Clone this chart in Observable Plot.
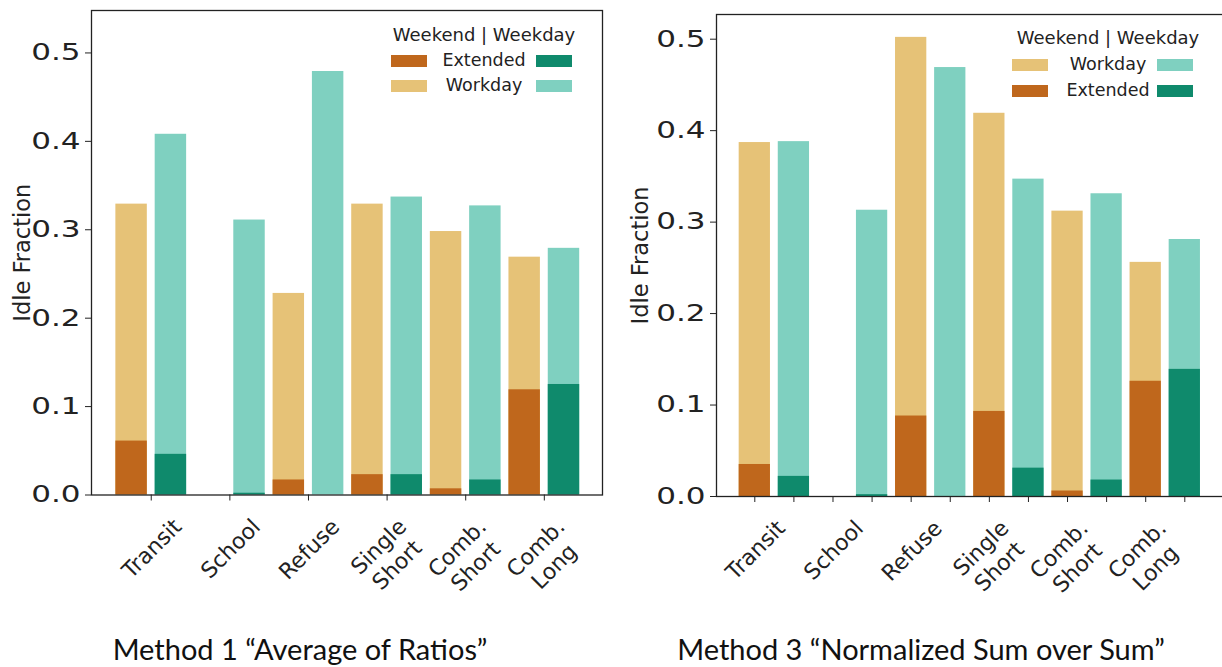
<!DOCTYPE html>
<html><head><meta charset="utf-8">
<script src="https://cdn.jsdelivr.net/npm/d3@7"></script>
<script src="https://cdn.jsdelivr.net/npm/@observablehq/plot@0.6"></script>
<style>
body{margin:0;background:#fff;}
#wrap{position:relative;width:1222px;height:667px;overflow:hidden;background:#fff;font-family:'DejaVu Sans',sans-serif;color:#222;}
svg text{font-family:'DejaVu Sans',sans-serif;}
.leg{position:absolute;font-size:17.5px;white-space:nowrap;font-family:'DejaVu Sans',sans-serif;}
.sw{position:absolute;height:12px;width:36px;}
.cap{position:absolute;font-family:Lato,'Open Sans',sans-serif;font-size:29px;color:#111;white-space:nowrap;transform:translateX(-50%);}
</style></head><body><div id="wrap"></div>
<script>
// ---- data ----
const categories = ["Transit", "School", "Refuse", "Single\nShort", "Comb.\nShort", "Comb.\nLong"];
const yTicks = [0, 0.1, 0.2, 0.3, 0.4, 0.5];

// Method 1 "Average of Ratios"
const m1WeekendWorkday  = [0.329, 0,     0.228, 0.329, 0.298, 0.269];
const m1WeekendExtended = [0.061, 0,     0.017, 0.023, 0.007, 0.119];
const m1WeekdayWorkday  = [0.408, 0.311, 0.479, 0.337, 0.327, 0.279];
const m1WeekdayExtended = [0.046, 0.002, 0,     0.023, 0.017, 0.125];

// Method 3 "Normalized Sum over Sum"
const m3WeekendWorkday  = [0.387, 0,     0.502, 0.419, 0.312, 0.256];
const m3WeekendExtended = [0.035, 0,     0.088, 0.093, 0.006, 0.126];
const m3WeekdayWorkday  = [0.388, 0.313, 0.469, 0.347, 0.331, 0.281];
const m3WeekdayExtended = [0.022, 0.002, 0,     0.031, 0.018, 0.139];

// ---- style ----
const C = {
  endWork: "#e6c277", endExt: "#bf671c",
  dayWork: "#7fd0c0", dayExt: "#0f8a6c", ink: "#222"
};
const FONT = "'DejaVu Sans', sans-serif";
const wrap = document.getElementById("wrap");

const ctx = document.createElement("canvas").getContext("2d");
const LBL_FS = 22, LBL_LH = 1.18;
ctx.font = LBL_FS + "px 'DejaVu Sans'";
function labelDy(t) {
  const lines = t.split("\n");
  const w = Math.max(...lines.map(l => ctx.measureText(l).width));
  const h = lines.length * LBL_FS * LBL_LH;
  return 18 + (w + h) * Math.SQRT1_2 / 2;
}

function panel({left, width, marginLeft, marginRight, marginTop, marginBottom, height, xDomain, yMax,
                endWork, endExt, dayWork, dayExt, endOff, dayOff, tickPos, labelOff, yLabelDx}) {
  const idx = categories.map((_, i) => i);
  const rows = (vals, off) => idx.map(i => ({x: i + off, v: vals[i]})).filter(d => d.v > 0);
  const bar = (vals, off, fill) => Plot.rectY(rows(vals, off), {x1: d => d.x - 0.2, x2: d => d.x + 0.2, y1: 0, y2: "v", fill});
  const labels = categories.map((c, i) => Plot.text([i + labelOff], {
    x: d => d, y: () => 0, text: () => c, rotate: -45, dy: labelDy(c),
    fontSize: LBL_FS, lineHeight: LBL_LH, textAnchor: "middle", fill: C.ink
  }));
  const svg = Plot.plot({
    width, height, marginLeft, marginRight, marginTop, marginBottom,
    style: {fontFamily: FONT, color: C.ink, background: "transparent", overflow: "visible"},
    x: {type: "linear", domain: xDomain},
    y: {domain: [0, yMax]},
    marks: [
      bar(endWork, endOff, C.endWork),
      bar(dayWork, dayOff, C.dayWork),
      bar(endExt, endOff, C.endExt),
      bar(dayExt, dayOff, C.dayExt),
      Plot.axisY({ticks: yTicks, tickFormat: d3.format(".1f"), tickSize: 6, tickPadding: 5, fontSize: 23, label: null, stroke: C.ink}),
      Plot.axisX({ticks: tickPos, tickFormat: () => "", tickSize: 6, label: null, stroke: C.ink}),
      Plot.frame({stroke: C.ink, strokeWidth: 1.3}),
      Plot.text(["Idle Fraction"], {frameAnchor: "left", dx: yLabelDx, rotate: -90, textAnchor: "middle", lineAnchor: "middle", fontSize: 22.5, fill: C.ink, text: d => d, ariaLabel: "y-label"}),
      ...labels
    ]
  });
  // widen the y tick labels and the axis label as in the reference
  svg.querySelectorAll('g[aria-label="y-axis tick label"] text').forEach(t => {
    const tr = t.getAttribute("transform") || "";
    t.setAttribute("transform", tr + " scale(1.35,1)");
  });
  svg.querySelectorAll('g[aria-label="y-label"] text').forEach(t => {
    const tr = t.getAttribute("transform") || "";
    t.setAttribute("transform", tr + " scale(1,1.2)");
  });
  svg.style.position = "absolute";
  svg.style.left = left + "px";
  svg.style.top = "0px";
  wrap.appendChild(svg);
}

panel({left: 0, width: 611, height: 600, marginLeft: 91, marginRight: 9, marginTop: 10, marginBottom: 105.5,
  xDomain: [-0.76, 5.74], yMax: 0.548,
  endWork: m1WeekendWorkday, endExt: m1WeekendExtended, dayWork: m1WeekdayWorkday, dayExt: m1WeekdayExtended,
  endOff: -0.25, dayOff: 0.25, tickPos: categories.map((_, i) => i), labelOff: 0, yLabelDx: -69});

panel({left: 610, width: 613, height: 600, marginLeft: 106, marginRight: 0, marginTop: 14, marginBottom: 104,
  xDomain: [-0.49, 5.995], yMax: 0.527,
  endWork: m3WeekendWorkday, endExt: m3WeekendExtended, dayWork: m3WeekdayWorkday, dayExt: m3WeekdayExtended,
  endOff: 0, dayOff: 0.5, tickPos: categories.flatMap((_, i) => [i, i + 0.5]), labelOff: 0, yLabelDx: -76});

// ---- legends ----
function legend(cx, titleY, rows, lx, rx) {
  const t = document.createElement("div");
  t.className = "leg"; t.textContent = "Weekend | Weekday";
  t.style.left = cx + "px"; t.style.top = (titleY - 11) + "px"; t.style.transform = "translateX(-50%)";
  t.style.fontSize = "18px";
  wrap.appendChild(t);
  rows.forEach(r => {
    const l = document.createElement("div");
    l.className = "leg"; l.textContent = r.label;
    l.style.left = cx + "px"; l.style.top = (r.y - 11) + "px"; l.style.transform = "translateX(-50%)";
    wrap.appendChild(l);
    [[lx, r.c1], [rx, r.c2]].forEach(([x, c]) => {
      const s = document.createElement("div");
      s.className = "sw"; s.style.left = x + "px"; s.style.top = (r.y - 6) + "px"; s.style.background = c;
      wrap.appendChild(s);
    });
  });
}
legend(484, 35, [{label: "Extended", y: 61, c1: C.endExt, c2: C.dayExt}, {label: "Workday", y: 86, c1: C.endWork, c2: C.dayWork}], 391, 536);
legend(1108, 38, [{label: "Workday", y: 65, c1: C.endWork, c2: C.dayWork}, {label: "Extended", y: 91, c1: C.endExt, c2: C.dayExt}], 1012, 1157);

// ---- captions ----
[["Method 1 \u201cAverage of Ratios\u201d", 300], ["Method 3 \u201cNormalized Sum over Sum\u201d", 921]].forEach(([txt, x]) => {
  const d = document.createElement("div");
  d.className = "cap"; d.textContent = txt; d.style.left = x + "px"; d.style.top = "631px";
  wrap.appendChild(d);
});
</script>
</body></html>
